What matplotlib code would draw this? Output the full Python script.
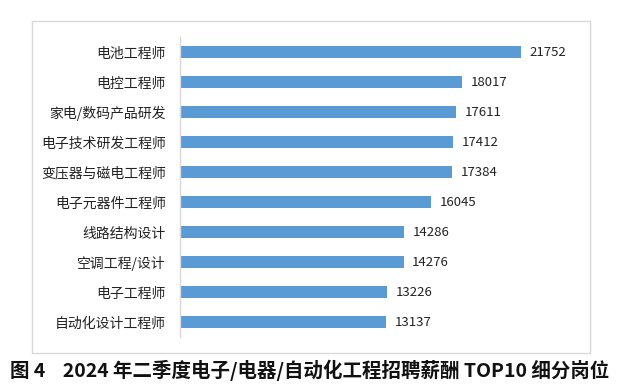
import matplotlib
matplotlib.use("Agg")
import matplotlib.pyplot as plt
from matplotlib.patches import Rectangle

plt.rcParams['font.family'] = ['Noto Sans CJK SC', 'DejaVu Sans']

categories = ["电池工程师", "电控工程师", "家电/数码产品研发", "电子技术研发工程师",
              "变压器与磁电工程师", "电子元器件工程师", "线路结构设计", "空调工程/设计",
              "电子工程师", "自动化设计工程师"]
values = [21752, 18017, 17611, 17412, 17384, 16045, 14286, 14276, 13226, 13137]
title = "图 4    2024 年二季度电子/电器/自动化工程招聘薪酬 TOP10 细分岗位"

W, H = 623, 391
fig = plt.figure(figsize=(W / 100, H / 100), dpi=100)

# outer chart frame
fig.patches.append(Rectangle((32 / W, 1 - 353 / H), 558 / W, 332 / H,
                             transform=fig.transFigure, fill=False,
                             edgecolor="#d9d9d9", linewidth=1.0))

ax = fig.add_axes([180 / W, 1 - 337 / H, 376 / W, 300 / H])
ypos = list(range(len(categories)))
ax.barh(ypos, values, height=0.42, color="#5B9BD5")
ax.set_ylim(len(categories) - 0.5, -0.5)
ax.set_xlim(0, 24000)
ax.set_yticks(ypos)
ax.set_yticklabels(categories, fontsize=10, color="#222222")
ax.tick_params(axis='y', length=0, pad=10)
ax.set_xticks([])
for s in ["top", "right", "bottom"]:
    ax.spines[s].set_visible(False)
ax.spines["left"].set_color("#d9d9d9")
ax.spines["left"].set_linewidth(1.0)
for y, v in zip(ypos, values):
    ax.text(v + 550, y, str(v), va="center", ha="left", fontsize=9.5,
            color="#222222", fontweight="medium")

fig.text(310 / W, 1 - 370 / H, title, ha="center", va="center",
         fontsize=14, fontweight="bold", color="#111111")

fig.savefig("out.png", dpi=100)
